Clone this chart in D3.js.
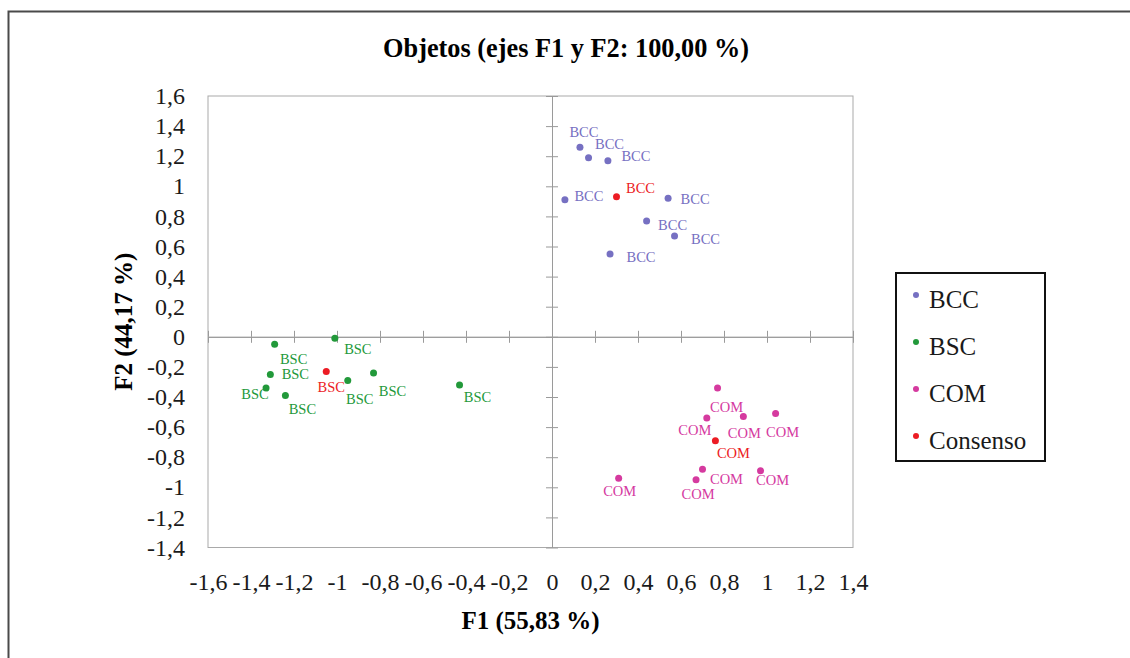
<!DOCTYPE html>
<html>
<head>
<meta charset="utf-8">
<script src="https://cdn.jsdelivr.net/npm/d3@7"></script>
<style>
  body { margin: 0; background: #fff; }
  text { font-family: "Liberation Serif", "Times New Roman", serif; }
</style>
</head>
<body>
<div id="chart"></div>
<script>
// observations (F1, F2) per group
const bcc = [[0.13, 1.26], [0.17, 1.19], [0.26, 1.17], [0.06, 0.91], [0.54, 0.92],
             [0.44, 0.77], [0.57, 0.67], [0.27, 0.55]];
const bsc = [[-1.29, -0.05], [-1.01, -0.01], [-1.31, -0.25], [-1.33, -0.34], [-1.24, -0.39],
             [-0.95, -0.29], [-0.83, -0.24], [-0.43, -0.32]];
const com = [[0.77, -0.34], [0.72, -0.54], [0.89, -0.53], [1.04, -0.51], [0.70, -0.88],
             [0.97, -0.89], [0.67, -0.95], [0.31, -0.94]];
// consensus point of each group
const consenso = [["BCC", 0.30, 0.93], ["BSC", -1.05, -0.23], ["COM", 0.76, -0.69]];

const legendNames = ["BCC", "BSC", "COM", "Consenso"];
const xTicks = [-1.6, -1.4, -1.2, -1, -0.8, -0.6, -0.4, -0.2, 0, 0.2, 0.4, 0.6, 0.8, 1, 1.2, 1.4];
const yTicks = [-1.4, -1.2, -1, -0.8, -0.6, -0.4, -0.2, 0, 0.2, 0.4, 0.6, 0.8, 1, 1.2, 1.4, 1.6];

const colors = {BCC: "#7670c2", BSC: "#22993a", COM: "#d53a9f", Consenso: "#ec1c24"};
// label nudges in px (text centre relative to its dot), same order as the points
const nudge = {
  BCC: [[4, -15], [21, -14], [28, -5], [24, -4], [27, 1], [26, 4], [31, 3], [31, 3]],
  BSC: [[19, 15], [23, 11], [25, -1], [-11, 6], [17, 13], [12, 18], [19, 18], [18, 12]],
  COM: [[9, 19], [-12, 12], [1, 16], [7, 18], [24, 10], [12, 9], [2, 14], [1, 13]],
  Consenso: [[24, -9], [5, 16], [18, 12]]
};

const W = 1130, H = 658;
const plot = {left: 208, right: 853, top: 96, bottom: 547.5};

const svg = d3.select("#chart").append("svg")
  .attr("width", W).attr("height", H);

// outer frame
svg.append("path")
  .attr("d", "M8.5,662V11.5H1134")
  .attr("fill", "none").attr("stroke", "#4a4a4a").attr("stroke-width", 2);

const x = d3.scaleLinear().domain([-1.6, 1.4]).range([plot.left, plot.right]);
const y = d3.scaleLinear().domain([-1.4, 1.6]).range([plot.bottom, plot.top]);
const fmt = d => String(d).replace(".", ",");

svg.append("rect")
  .attr("x", plot.left).attr("y", plot.top)
  .attr("width", plot.right - plot.left).attr("height", plot.bottom - plot.top)
  .attr("fill", "none").attr("stroke", "#a9a9a9");

// axes through the origin, ticks crossing the line
const tk = 6;
function zeroAxis(g) {
  g.selectAll("path").attr("stroke", "#9a9a9a");
  g.selectAll("line").attr("stroke", "#9a9a9a");
  g.selectAll("text").remove();
}
svg.append("g").attr("transform", `translate(0,${y(0)})`)
  .call(d3.axisBottom(x).tickValues(xTicks).tickSize(tk).tickSizeOuter(0)).call(zeroAxis);
svg.append("g").attr("transform", `translate(0,${y(0)})`)
  .call(d3.axisTop(x).tickValues(xTicks).tickSize(tk).tickSizeOuter(0)).call(zeroAxis);
svg.append("g").attr("transform", `translate(${x(0)},0)`)
  .call(d3.axisLeft(y).tickValues(yTicks).tickSize(tk).tickSizeOuter(0)).call(zeroAxis);
svg.append("g").attr("transform", `translate(${x(0)},0)`)
  .call(d3.axisRight(y).tickValues(yTicks).tickSize(tk).tickSizeOuter(0)).call(zeroAxis);

// tick labels along the plot edges
function labelAxis(g) {
  g.select(".domain").remove();
  g.selectAll("line").remove();
  g.selectAll("text").attr("font-family", "Liberation Serif, serif")
    .attr("font-size", 24).attr("fill", "#1a1a1a");
}
svg.append("g").attr("transform", `translate(0,${plot.bottom})`)
  .call(d3.axisBottom(x).tickValues(xTicks).tickFormat(fmt).tickSize(0).tickPadding(25))
  .call(labelAxis);
svg.append("g").attr("transform", `translate(${plot.left},0)`)
  .call(d3.axisLeft(y).tickValues(yTicks).tickFormat(fmt).tickSize(0).tickPadding(23))
  .call(labelAxis);

// titles
svg.append("text").attr("x", 566).attr("y", 57)
  .attr("text-anchor", "middle").attr("font-size", 26.3).attr("font-weight", "bold")
  .text("Objetos (ejes F1 y F2: 100,00 %)");
svg.append("text").attr("x", (plot.left + plot.right) / 2).attr("y", 629)
  .attr("text-anchor", "middle").attr("font-size", 25).attr("font-weight", "bold")
  .text("F1 (55,83 %)");
svg.append("text")
  .attr("transform", `translate(132,${(plot.top + plot.bottom) / 2}) rotate(-90)`)
  .attr("text-anchor", "middle").attr("font-size", 25).attr("font-weight", "bold")
  .text("F2 (44,17 %)");

// points + labels
const groups = [["BCC", bcc], ["BSC", bsc], ["COM", com]];
const pts = [];
groups.forEach(([name, arr]) => arr.forEach((p, i) =>
  pts.push({g: name, x: p[0], y: p[1], c: colors[name], n: nudge[name][i]})));
consenso.forEach((p, i) =>
  pts.push({g: p[0], x: p[1], y: p[2], c: colors.Consenso, n: nudge.Consenso[i]}));

svg.append("g").selectAll("circle")
  .data(pts).enter().append("circle")
  .attr("cx", d => x(d.x)).attr("cy", d => y(d.y))
  .attr("r", 3.5).attr("fill", d => d.c);

svg.append("g").selectAll("text")
  .data(pts).enter().append("text")
  .attr("x", d => x(d.x) + d.n[0])
  .attr("y", d => y(d.y) + d.n[1])
  .attr("dy", "0.35em").attr("text-anchor", "middle")
  .attr("font-size", 14.5).attr("fill", d => d.c)
  .text(d => d.g);

// legend
const lg = svg.append("g").attr("transform", "translate(896,273)");
lg.append("rect").attr("width", 149).attr("height", 188)
  .attr("fill", "#fff").attr("stroke", "#111").attr("stroke-width", 2);
const row = lg.selectAll("g.row").data(legendNames).enter().append("g")
  .attr("transform", (d, i) => `translate(0,${35 + i * 47})`);
row.append("circle").attr("cx", 20).attr("cy", -13).attr("r", 3).attr("fill", d => colors[d]);
row.append("text").attr("x", 33).attr("font-size", 25).attr("fill", "#1a1a1a").text(d => d);
</script>
</body>
</html>
